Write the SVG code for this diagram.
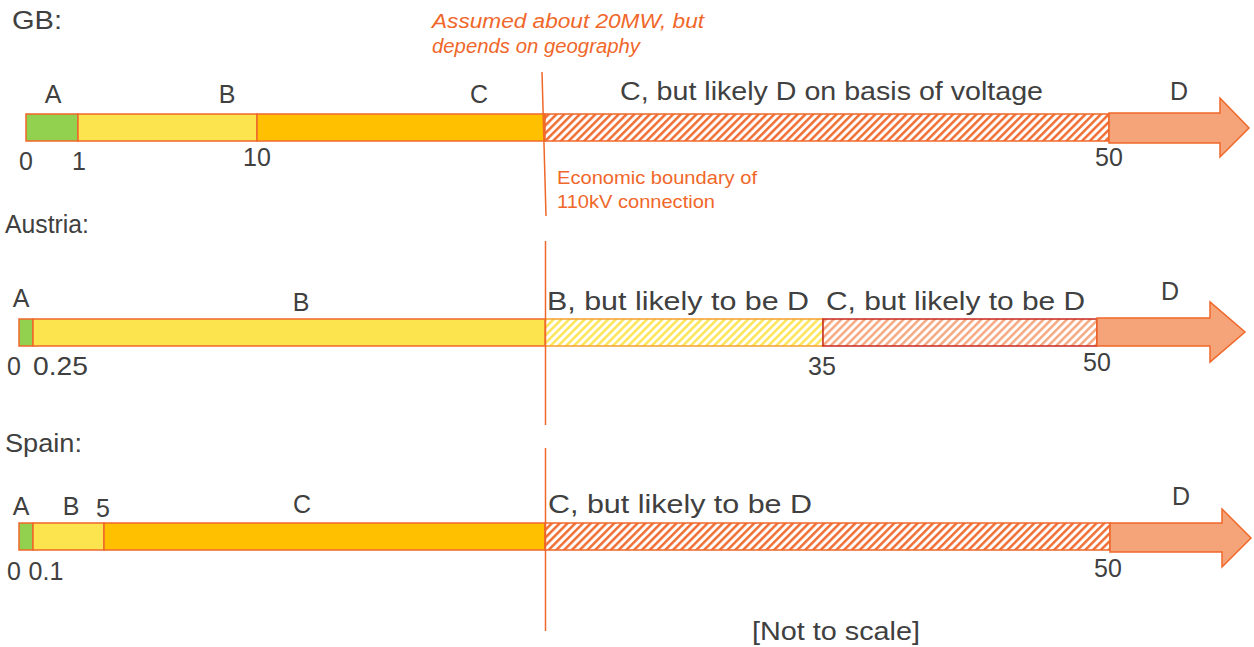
<svg xmlns="http://www.w3.org/2000/svg" width="1254" height="647" viewBox="0 0 1254 647">
<style>
.t{font-family:"Liberation Sans",Arial,sans-serif;font-size:25px;fill:#404040}
.n{font-family:"Liberation Sans",Arial,sans-serif;font-size:19px;fill:#F0672A}
.ni{font-family:"Liberation Sans",Arial,sans-serif;font-size:19.5px;fill:#F0672A;font-style:italic}
.bar{stroke:#F0672A;stroke-width:1.5}
.g{fill:#92D050}.y{fill:#FBE44D}.o{fill:#FFC000}
.arr{fill:#F5A47A;stroke:#F0672A;stroke-width:1.5}
.vl{stroke:#F0672A;stroke-width:1.5;fill:none}
</style>
<defs>
<pattern id="hO" patternUnits="userSpaceOnUse" width="5.5" height="5.5" patternTransform="rotate(45)">
<rect width="5.5" height="5.5" fill="#fff"/><line x1="1.3" y1="0" x2="1.3" y2="5.5" stroke="#F0672A" stroke-width="2.4"/>
</pattern>
<pattern id="hY" patternUnits="userSpaceOnUse" width="5.5" height="5.5" patternTransform="rotate(45)">
<rect width="5.5" height="5.5" fill="#fff"/><line x1="1.3" y1="0" x2="1.3" y2="5.5" stroke="#FBE44D" stroke-width="2.4"/>
</pattern>
<pattern id="hS" patternUnits="userSpaceOnUse" width="5.5" height="5.5" patternTransform="rotate(45)">
<rect width="5.5" height="5.5" fill="#fff"/><line x1="1.3" y1="0" x2="1.3" y2="5.5" stroke="#F5A47A" stroke-width="2.4"/>
</pattern>
</defs>
<rect width="1254" height="647" fill="#fff"/>

<g id="gb">
<text class="t" x="12" y="29" textLength="50" lengthAdjust="spacingAndGlyphs">GB:</text>
<rect class="bar g" x="26" y="114" width="52" height="27"/>
<rect class="bar y" x="78" y="114" width="179" height="27"/>
<rect class="bar o" x="257" y="114" width="288" height="27"/>
<rect class="bar" fill="url(#hO)" x="545" y="114" width="564" height="27"/>
<path class="arr" d="M1109,113 H1220 V98 L1249,128 L1220,157 V143 H1109 Z"/>
<text class="t" x="53" y="103" text-anchor="middle">A</text>
<text class="t" x="227" y="103" text-anchor="middle">B</text>
<text class="t" x="479" y="103" text-anchor="middle">C</text>
<text class="t" x="620" y="100" textLength="423" lengthAdjust="spacingAndGlyphs">C, but likely D on basis of voltage</text>
<text class="t" x="1179" y="100" text-anchor="middle">D</text>
<text class="t" x="26" y="170" text-anchor="middle">0</text>
<text class="t" x="79" y="170" text-anchor="middle">1</text>
<text class="t" x="257" y="166" text-anchor="middle">10</text>
<text class="t" x="1109" y="166" text-anchor="middle">50</text>
</g>

<g id="austria">
<text class="t" x="5" y="233" textLength="84" lengthAdjust="spacingAndGlyphs">Austria:</text>
<rect class="bar g" x="19" y="319" width="14" height="27"/>
<rect class="bar y" x="33" y="319" width="512" height="27"/>
<rect fill="url(#hY)" stroke="#F5A030" stroke-width="1.5" x="545" y="319" width="278" height="27"/>
<rect fill="url(#hS)" stroke="#C8281E" stroke-width="1.5" x="823" y="319" width="274" height="27"/>
<path class="arr" d="M1097,318 H1210 V302 L1245,332 L1210,362 V346 H1097 Z"/>
<text class="t" x="21" y="307" text-anchor="middle">A</text>
<text class="t" x="301" y="311" text-anchor="middle">B</text>
<text class="t" x="547" y="310" textLength="262" lengthAdjust="spacingAndGlyphs">B, but likely to be D</text>
<text class="t" x="826" y="310" textLength="259" lengthAdjust="spacingAndGlyphs">C, but likely to be D</text>
<text class="t" x="1170" y="300" text-anchor="middle">D</text>
<text class="t" x="14" y="375" text-anchor="middle">0</text>
<text class="t" x="33" y="375" textLength="55" lengthAdjust="spacingAndGlyphs">0.25</text>
<text class="t" x="822" y="375" text-anchor="middle">35</text>
<text class="t" x="1097" y="371" text-anchor="middle">50</text>
</g>

<g id="spain">
<text class="t" x="5" y="452" textLength="77" lengthAdjust="spacingAndGlyphs">Spain:</text>
<rect class="bar g" x="19" y="523" width="14" height="27"/>
<rect class="bar y" x="33" y="523" width="71" height="27"/>
<rect class="bar o" x="104" y="523" width="441" height="27"/>
<rect class="bar" fill="url(#hO)" x="545" y="523" width="565" height="27"/>
<path class="arr" d="M1110,523 H1222 V509 L1251,538 L1222,567 V552 H1110 Z"/>
<text class="t" x="21" y="515" text-anchor="middle">A</text>
<text class="t" x="71" y="515" text-anchor="middle">B</text>
<text class="t" x="103" y="517" text-anchor="middle">5</text>
<text class="t" x="302" y="513" text-anchor="middle">C</text>
<text class="t" x="548" y="513" textLength="264" lengthAdjust="spacingAndGlyphs">C, but likely to be D</text>
<text class="t" x="1181" y="505" text-anchor="middle">D</text>
<text class="t" x="14" y="580" text-anchor="middle">0</text>
<text class="t" x="46" y="580" text-anchor="middle">0.1</text>
<text class="t" x="1108" y="577" text-anchor="middle">50</text>
<text class="t" x="752" y="640" textLength="168" lengthAdjust="spacingAndGlyphs">[Not to scale]</text>
</g>

<g id="boundary">
<line class="vl" x1="542" y1="72" x2="546" y2="216"/>
<line class="vl" x1="545.5" y1="241" x2="545.5" y2="425"/>
<line class="vl" x1="545.5" y1="448" x2="545.5" y2="631"/>
<text class="ni" x="432" y="28" textLength="272" lengthAdjust="spacingAndGlyphs">Assumed about 20MW, but</text>
<text class="ni" x="432" y="53" textLength="208" lengthAdjust="spacingAndGlyphs">depends on geography</text>
<text class="n" x="557" y="184" textLength="200" lengthAdjust="spacingAndGlyphs">Economic boundary of</text>
<text class="n" x="557" y="208" textLength="158" lengthAdjust="spacingAndGlyphs">110kV connection</text>
</g>
</svg>
